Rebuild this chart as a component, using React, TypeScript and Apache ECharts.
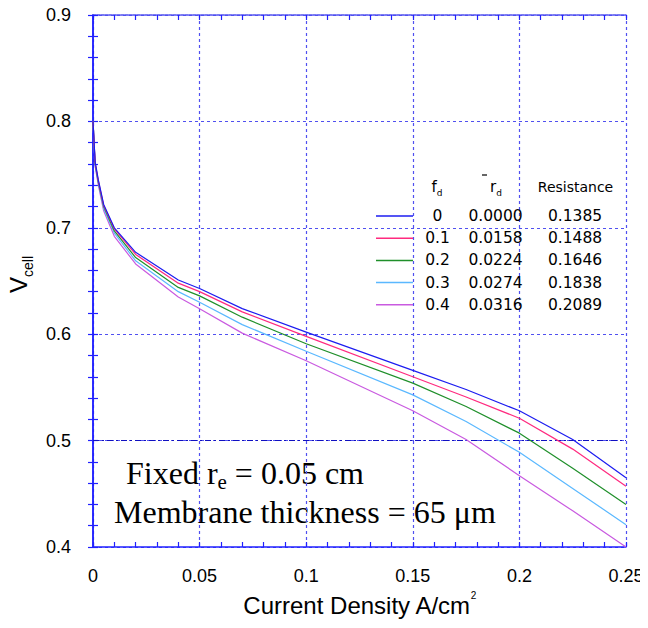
import React, { useEffect, useRef } from "react";
import * as echarts from "echarts";

const currentDensity = [0, 0.001, 0.0025, 0.005, 0.01, 0.02, 0.04, 0.05, 0.07, 0.1, 0.15, 0.175, 0.2, 0.225, 0.25];

const vFd0 = [0.8, 0.762, 0.745, 0.722, 0.7, 0.677, 0.651, 0.643, 0.624, 0.602, 0.566, 0.548, 0.528, 0.501, 0.465];
const vFd01 = [0.8, 0.761, 0.744, 0.721, 0.699, 0.675, 0.648, 0.64, 0.621, 0.598, 0.56, 0.541, 0.521, 0.492, 0.457];
const vFd02 = [0.8, 0.76, 0.743, 0.72, 0.697, 0.672, 0.644, 0.636, 0.616, 0.591, 0.554, 0.532, 0.507, 0.474, 0.44];
const vFd03 = [0.8, 0.759, 0.742, 0.718, 0.695, 0.669, 0.64, 0.63, 0.609, 0.584, 0.543, 0.518, 0.489, 0.455, 0.421];
const vFd04 = [0.8, 0.758, 0.74, 0.716, 0.692, 0.666, 0.635, 0.624, 0.601, 0.575, 0.528, 0.501, 0.467, 0.434, 0.4];

const fdLabels = ["0", "0.1", "0.2", "0.3", "0.4"];
const rdLabels = ["0.0000", "0.0158", "0.0224", "0.0274", "0.0316"];
const resistanceLabels = ["0.1385", "0.1488", "0.1646", "0.1838", "0.2089"];
const seriesValues = [vFd0, vFd01, vFd02, vFd03, vFd04];
const seriesColors = ["#1c1cf0", "#ff2a7f", "#1f8f2a", "#5ab8ff", "#c95ae0"];

const xTicks = [0, 0.05, 0.1, 0.15, 0.2, 0.25];
const yTicks = [0.4, 0.5, 0.6, 0.7, 0.8, 0.9];

const AXIS_BLUE = "#2020ff";
const GRID_BLUE = "#5050f0";
const SANS = "'Liberation Sans', Arial, sans-serif";
const SERIF = "'Liberation Serif', 'Times New Roman', serif";
const LEG = "'DejaVu Sans', Verdana, sans-serif";

export default function App() {
  const ref = useRef<HTMLDivElement>(null);
  useEffect(() => {
    if (!ref.current) return;
    const chart = echarts.init(ref.current, null, { renderer: "svg" });

    const series: any[] = seriesValues.map((vals, i) => ({
      name: fdLabels[i],
      type: "line",
      data: currentDensity.map((x, j) => [x, vals[j]]),
      symbol: "none",
      showSymbol: false,
      lineStyle: { color: seriesColors[i], width: 1.2 },
      itemStyle: { color: seriesColors[i] },
      z: 10 - i,
    }));
    series[0].markLine = {
      silent: true,
      symbol: "none",
      label: { show: false },
      lineStyle: { color: "#1010c0", type: [6, 3, 2, 3], width: 1 },
      data: [{ yAxis: 0.5 }],
      z: 1,
    };

    const axisCommon = {
      axisLine: { show: true, lineStyle: { color: AXIS_BLUE, width: 1.5 } },
      axisTick: { show: true, inside: true, length: 5, lineStyle: { color: AXIS_BLUE, width: 1.2 } },
      minorTick: { show: true, splitNumber: 5, length: 5, lineStyle: { color: AXIS_BLUE, width: 1.2 } },
    };

    const legRich = (w: number) => ({
      width: w,
      align: "center",
      fontFamily: LEG,
      fontSize: 15.5,
      lineHeight: 22,
      color: "#000",
    });

    chart.setOption({
      animation: false,
      backgroundColor: "#ffffff",
      grid: { left: 93, top: 15, right: 22, bottom: 81, containLabel: false },
      xAxis: [
        {
          type: "value",
          min: xTicks[0],
          max: xTicks[xTicks.length - 1],
          interval: 0.05,
          ...axisCommon,
          axisLabel: {
            color: "#000",
            fontSize: 18,
            fontFamily: SANS,
            margin: 20,
            formatter: (v: number) => String(parseFloat(v.toFixed(3))),
          },
          splitLine: { show: true, lineStyle: { color: GRID_BLUE, type: [3, 3], width: 1.2 } },
          name: "{m|Current Density A/cm}{sup|2}",
          nameLocation: "middle",
          nameGap: 43,
          nameTextStyle: {
            color: "#000",
            fontSize: 24,
            fontFamily: SANS,
            rich: {
              m: { fontSize: 24, fontFamily: SANS, color: "#000", lineHeight: 30 },
              sup: { fontSize: 10, fontFamily: SANS, color: "#000", verticalAlign: "top", lineHeight: 16 },
            },
          },
        },
        {
          type: "value",
          position: "top",
          min: xTicks[0],
          max: xTicks[xTicks.length - 1],
          interval: 0.05,
          ...axisCommon,
          axisLine: { show: true, lineStyle: { color: GRID_BLUE, width: 1.5, type: [3, 1] } },
          axisLabel: { show: false },
          splitLine: { show: false },
        },
      ],
      yAxis: [
        {
          type: "value",
          min: yTicks[0],
          max: yTicks[yTicks.length - 1],
          interval: 0.1,
          ...axisCommon,
          axisLabel: {
            color: "#000",
            fontSize: 18,
            fontFamily: SANS,
            margin: 22,
            formatter: (v: number) => v.toFixed(1),
          },
          splitLine: { show: true, lineStyle: { color: GRID_BLUE, type: [3, 3], width: 1.2 } },
        },
        {
          type: "value",
          position: "right",
          min: yTicks[0],
          max: yTicks[yTicks.length - 1],
          interval: 0.1,
          ...axisCommon,
          axisLabel: { show: false },
          splitLine: { show: false },
        },
      ],
      legend: {
        show: true,
        orient: "vertical",
        left: 376,
        top: 205,
        icon: "rect",
        itemWidth: 37,
        itemHeight: 1.5,
        itemGap: 0.2,
        padding: 0,
        selectedMode: false,
        data: fdLabels.map((n) => ({ name: n })),
        formatter: (name: string) => {
          const i = fdLabels.indexOf(name);
          return `{a|${fdLabels[i]}}{b|${rdLabels[i]}}{c|${resistanceLabels[i]}}`;
        },
        textStyle: {
          color: "#000",
          fontFamily: LEG,
          fontSize: 15.5,
          lineHeight: 22,
          rich: { a: legRich(39), b: legRich(77), c: legRich(82) },
        },
      },
      graphic: [
        // y-axis title V_cell (rotated)
        {
          type: "text",
          left: 6,
          top: 256,
          z: 100,
          rotation: Math.PI / 2,
          originX: 0,
          originY: 0,
          style: {
            text: "{v|V}{s|cell}",
            rich: {
              v: { fontSize: 24, fontFamily: SANS, fill: "#000", lineHeight: 34 },
              s: { fontSize: 14, fontFamily: SANS, fill: "#000", lineHeight: 14, verticalAlign: "bottom" },
            },
          },
        },
        // legend header
        {
          type: "text",
          x: 437,
          y: 187,
          style: {
            text: "{m|f}{s|d}",
            align: "center",
            verticalAlign: "middle",
            rich: {
              m: { fontSize: 15, fontFamily: LEG, fill: "#000", lineHeight: 20 },
              s: { fontSize: 9, fontFamily: LEG, fill: "#000", lineHeight: 10, verticalAlign: "bottom" },
            },
          },
        },
        {
          type: "text",
          x: 496,
          y: 187,
          style: {
            text: "{m|r}{s|d}",
            align: "center",
            verticalAlign: "middle",
            rich: {
              m: { fontSize: 15, fontFamily: LEG, fill: "#000", lineHeight: 20 },
              s: { fontSize: 9, fontFamily: LEG, fill: "#000", lineHeight: 10, verticalAlign: "bottom" },
            },
          },
        },
        {
          type: "line",
          shape: { x1: 482, y1: 175, x2: 487, y2: 175 },
          style: { stroke: "#000", lineWidth: 1.2 },
        },
        {
          type: "text",
          x: 575.5,
          y: 187,
          style: {
            text: "Resistance",
            align: "center",
            verticalAlign: "middle",
            fontSize: 14,
            fontFamily: LEG,
            fill: "#000",
          },
        },
        // annotation
        {
          type: "text",
          x: 126,
          y: 473,
          style: {
            text: "{m|Fixed r}{s|e}{m| = 0.05 cm}",
            verticalAlign: "middle",
            rich: {
              m: { fontSize: 32, fontFamily: SERIF, fill: "#000", lineHeight: 38 },
              s: { fontSize: 21, fontFamily: SERIF, fill: "#000", lineHeight: 16, verticalAlign: "bottom" },
            },
          },
        },
        {
          type: "text",
          x: 114,
          y: 512,
          style: {
            text: "Membrane thickness = 65 μm",
            verticalAlign: "middle",
            fontSize: 32,
            fontFamily: SERIF,
            fill: "#000",
          },
        },
      ],
      series,
    });
    return () => chart.dispose();
  }, []);
  return <div ref={ref} style={{ width: 648, height: 628, margin: -8 }} />;
}
